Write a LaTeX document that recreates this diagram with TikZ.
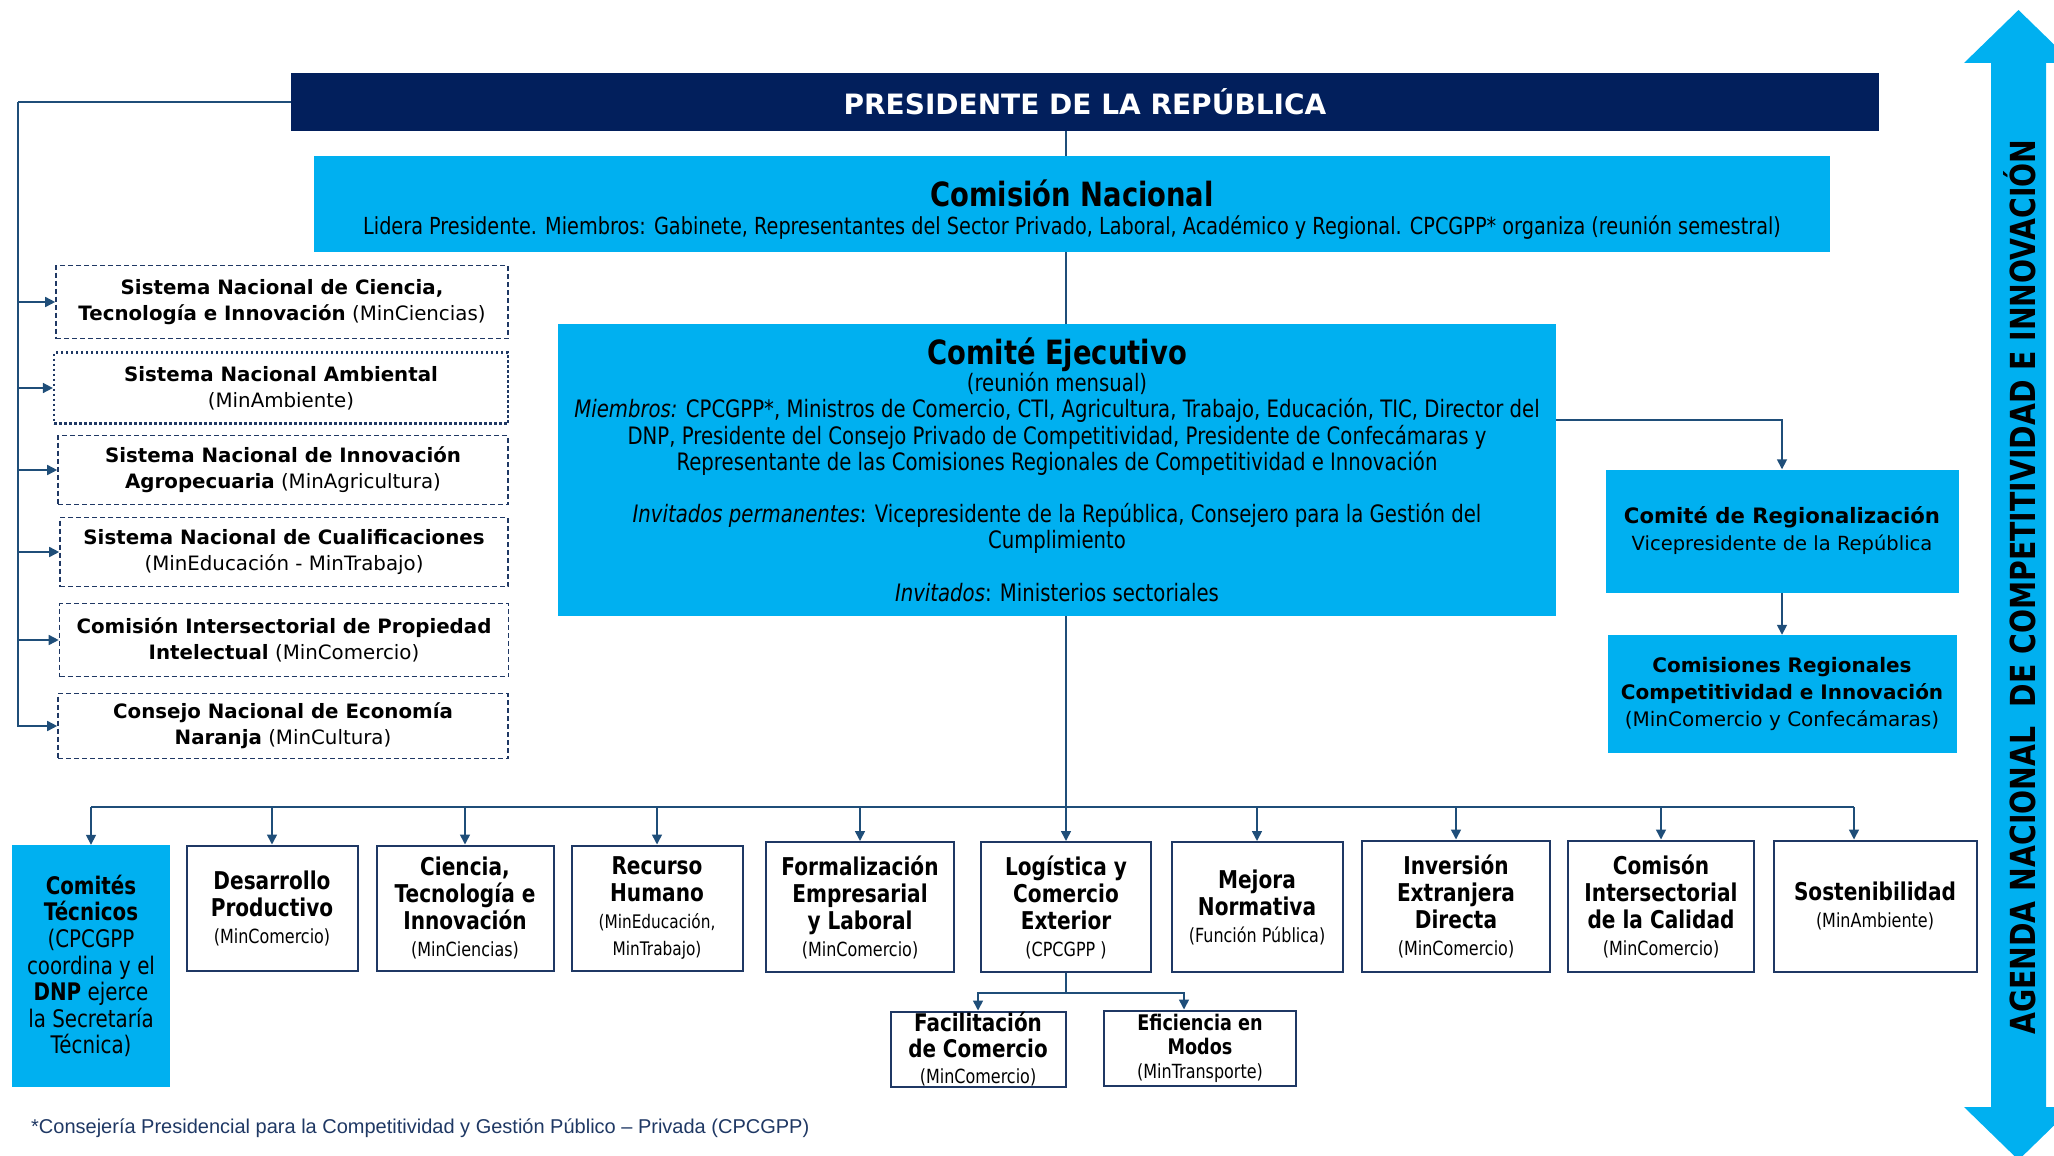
\documentclass[tikz,border=0pt]{standalone}
\usepackage{fontspec}
\setmainfont{DejaVu Sans}
\newfontfamily\cond[FakeStretch=0.82]{DejaVu Sans}
\newfontfamily\nota{Liberation Sans}
\usetikzlibrary{arrows.meta,backgrounds,calc}

\definecolor{navy}{HTML}{021F5C}
\definecolor{cielo}{HTML}{00B0F0}
\definecolor{linea}{HTML}{1F4E79}
\definecolor{borde}{HTML}{1F3864}

\newcommand\minis[1]{{\fontsize{19.5}{22}\selectfont\mdseries #1}}
\newcommand\minik[1]{{\fontsize{18.7}{21}\selectfont\mdseries #1}}

\tikzset{
  conn/.style={draw=linea, line width=1.6pt},
  flecha/.style={conn, -{Triangle[length=10pt,width=10pt]}},
  azul/.style={fill=cielo, inner sep=0pt, align=center},
  sis/.style={draw=borde, line width=1.6pt, dash pattern=on 5pt off 3pt, inner sep=0pt, align=center,
    font=\fontsize{19.8}{26}\selectfont},
  mesa/.style={draw=borde, line width=2pt, fill=white, inner sep=0pt, align=center,
    font=\cond\fontsize{24.5}{27}\selectfont},
}

\begin{document}
\begin{tikzpicture}[x=1pt,y=-1pt]
\useasboundingbox (0,0) rectangle (2054,1156);

\node[fill=navy, minimum width=1588, minimum height=58, inner sep=0pt, text=white,
  font=\bfseries\fontsize{28}{30}\selectfont] (pres) at (1085,102) {PRESIDENTE DE LA REPÚBLICA};

\node[azul, minimum width=1516, minimum height=96, font=\cond\fontsize{23.5}{30}\selectfont] (cnac) at (1072,204)
  {\rule{0pt}{38pt}{\bfseries\fontsize{33.4}{36}\selectfont Comisión Nacional}\\[-2pt]
   Lidera Presidente. Miembros: Gabinete, Representantes del Sector Privado, Laboral, Académico y Regional. CPCGPP* organiza (reunión semestral)};

\node[azul, minimum width=998, minimum height=292, font=\cond\fontsize{24}{26.2}\selectfont] (exec) at (1057,470)
  {{\bfseries\fontsize{33.4}{36}\selectfont Comité Ejecutivo}\\
   (reunión mensual)\\
   \textit{Miembros:} CPCGPP*, Ministros de Comercio, CTI, Agricultura, Trabajo, Educación, TIC, Director del\\
   DNP, Presidente del Consejo Privado de Competitividad, Presidente de Confecámaras y\\
   Representante de las Comisiones Regionales de Competitividad e Innovación\\[26pt]
   \textit{Invitados permanentes}: Vicepresidente de la República, Consejero para la Gestión del\\
   Cumplimiento\\[27pt]
   \textit{Invitados}: Ministerios sectoriales};

\node[azul, minimum width=353, minimum height=123, font=\fontsize{19.5}{27}\selectfont] (reg) at (1782,531)
  {{\bfseries\fontsize{21.2}{27}\selectfont Comité de Regionalización}\\ Vicepresidente de la República};
\node[azul, minimum width=349, minimum height=118, font=\fontsize{20}{27}\selectfont] (comreg) at (1782,694)
  {\textbf{Comisiones Regionales}\\ \textbf{Competitividad e Innovación}\\ (MinComercio y Confecámaras)};

\node[sis, minimum width=452, minimum height=73] (sis1) at (282,302) {\textbf{Sistema Nacional de Ciencia,}\\ \textbf{Tecnología e Innovación} (MinCiencias)};
\node[sis, minimum width=454, minimum height=71, dash pattern=on 2.5pt off 2.5pt, line width=2.2pt] (sis2) at (281,388) {\textbf{Sistema Nacional Ambiental}\\ (MinAmbiente)};
\node[sis, minimum width=450, minimum height=69] (sis3) at (283,470) {\textbf{Sistema Nacional de Innovación}\\ \textbf{Agropecuaria} (MinAgricultura)};
\node[sis, minimum width=448, minimum height=69] (sis4) at (284,552) {\textbf{Sistema Nacional de Cualificaciones}\\ (MinEducación - MinTrabajo)};
\node[sis, minimum width=449, minimum height=73] (sis5) at (284,640) {\textbf{Comisión Intersectorial de Propiedad}\\ \textbf{Intelectual} (MinComercio)};
\node[sis, minimum width=450, minimum height=65] (sis6) at (283,726) {\textbf{Consejo Nacional de Economía}\\ \textbf{Naranja} (MinCultura)};

\node[azul, minimum width=158, minimum height=242, font=\cond\fontsize{24.2}{26.6}\selectfont] (ctec) at (91,966)
  {\textbf{Comités}\\ \textbf{Técnicos}\\ (CPCGPP\\ coordina y el\\ \textbf{DNP} ejerce\\ la Secretaría\\ Técnica)};
\node[mesa, minimum width=171, minimum height=125] (desa) at (272,908) {\textbf{Desarrollo}\\ \textbf{Productivo}\\ \minis{(MinComercio)}};
\node[mesa, minimum width=177, minimum height=125] (cien) at (465,908) {\textbf{Ciencia,}\\ \textbf{Tecnología e}\\ \textbf{Innovación}\\ \minis{(MinCiencias)}};
\node[mesa, minimum width=171, minimum height=125] (recu) at (657,908) {\textbf{Recurso}\\ \textbf{Humano}\\ \minik{(MinEducación,}\\ \minik{MinTrabajo)}};
\node[mesa, minimum width=188, minimum height=130] (form) at (860,907) {\textbf{Formalización}\\ \textbf{Empresarial}\\ \textbf{y Laboral}\\ \minis{(MinComercio)}};
\node[mesa, minimum width=170, minimum height=130] (logi) at (1066,907) {\textbf{Logística y}\\ \textbf{Comercio}\\ \textbf{Exterior}\\ \minis{(CPCGPP )}};
\node[mesa, minimum width=171, minimum height=130] (mejo) at (1257,907) {\textbf{Mejora}\\ \textbf{Normativa}\\ \minis{(Función Pública)}};
\node[mesa, minimum width=188, minimum height=131] (inve) at (1456,906) {\textbf{Inversión}\\ \textbf{Extranjera}\\ \textbf{Directa}\\ \minis{(MinComercio)}};
\node[mesa, minimum width=186, minimum height=131] (cali) at (1661,906) {\textbf{Comisón}\\ \textbf{Intersectorial}\\ \textbf{de la Calidad}\\ \minis{(MinComercio)}};
\node[mesa, minimum width=203, minimum height=131] (sost) at (1875,906) {\textbf{Sostenibilidad}\\ \minis{(MinAmbiente)}};

\node[mesa, minimum width=175, minimum height=75, font=\cond\fontsize{24.3}{26}\selectfont] (faci) at (978,1049) {\textbf{Facilitación}\\ \textbf{de Comercio}\\ \minis{(MinComercio)}};
\node[mesa, minimum width=192, minimum height=75, font=\cond\fontsize{21.5}{24}\selectfont] (efic) at (1200,1048) {\textbf{Eficiencia en}\\ \textbf{Modos}\\ \minis{(MinTransporte)}};

\fill[cielo] (2018.5,10) -- (2073,63) -- (2046,63) -- (2046,1107) -- (2073,1107) -- (2018.5,1160)
  -- (1964,1107) -- (1991,1107) -- (1991,63) -- (1964,63) -- cycle;
\node[rotate=90, font=\cond\bfseries\fontsize{34.5}{36}\selectfont] (agenda) at (2020,587) {AGENDA NACIONAL\ \ DE COMPETITIVIDAD E INNOVACIÓN};

\node[anchor=west, inner sep=0pt, text=borde, font=\nota\fontsize{20}{22}\selectfont] (pie) at (31,1128)
  {*Consejería Presidencial para la Competitividad y Gestión Público – Privada (CPCGPP)};

\begin{scope}[on background layer]
  \draw[conn] (pres.south -| logi.north) -- (exec.north -| logi.north);
\end{scope}

\coordinate (spine) at (18,102);
\draw[conn] (pres.west) -- (spine);
\draw[flecha] (spine) |- (sis6.west);
\foreach \s in {1,...,5}
  \draw[flecha] (spine |- sis\s.west) -- (sis\s.west);

\draw[flecha] ([yshift=50pt]exec.east) -| (reg.north);
\draw[flecha] (reg.south) -- (reg.south |- comreg.north);

\coordinate (bus) at (0,807);
\draw[flecha] (exec.south -| logi.north) -- (logi.north);
\draw[conn] (ctec.north |- bus) -- ([xshift=-21pt]sost.north |- bus);
\foreach \b in {ctec,desa,cien,recu,form,mejo,inve,cali}
  \draw[flecha] (\b.north |- bus) -- (\b.north);
\draw[flecha] ([xshift=-21pt]sost.north |- bus) -- ([xshift=-21pt]sost.north);

\coordinate (lsplit) at ($(logi.south)+(0,20)$);
\draw[conn] (logi.south) -- (lsplit);
\draw[flecha] (lsplit) -| (faci.north);
\draw[flecha] (lsplit) -| ([xshift=-16pt]efic.north);

\end{tikzpicture}
\end{document}
